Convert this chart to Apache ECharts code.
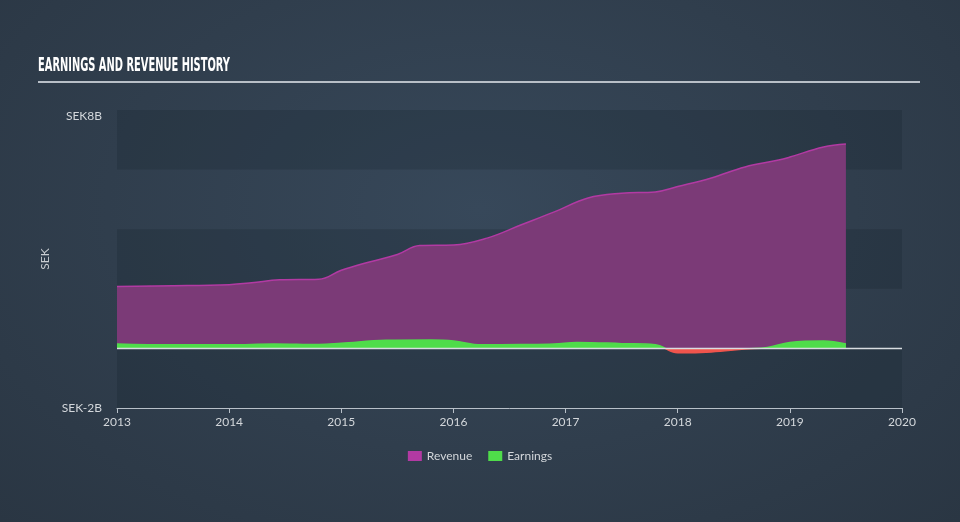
<!DOCTYPE html>
<html><head><meta charset="utf-8">
<script src="https://cdn.jsdelivr.net/npm/echarts@6/dist/echarts.min.js"></script>
<style>
html,body{margin:0;padding:0;}
body{width:960px;height:522px;background:radial-gradient(ellipse at 50% 40%, #37485a 0%, #303e4d 55%, #2a3643 100%);}
#c{width:960px;height:522px;}
</style></head><body><div id="c"></div>
<script>
const revenueX = [2013.0,2013.5,2014.0,2014.2,2014.45,2014.8,2015.0,2015.25,2015.5,2015.7,2016.0,2016.3,2016.6,2016.9,2017.2,2017.5,2017.8,2018.0,2018.3,2018.6,2018.9,2019.0,2019.3,2019.5];
const revenueY = [2.08,2.1,2.14,2.2,2.3,2.32,2.62,2.9,3.15,3.45,3.47,3.7,4.14,4.58,5.05,5.21,5.25,5.43,5.72,6.09,6.32,6.42,6.76,6.86];
const earningsX = [2013.0,2013.5,2014.0,2014.4,2014.8,2015.0,2015.4,2015.8,2016.0,2016.25,2016.6,2016.9,2017.1,2017.5,2017.8,2018.0,2018.3,2018.6,2018.8,2019.0,2019.3,2019.5];
const earningsY = [0.15,0.12,0.12,0.15,0.13,0.17,0.27,0.28,0.25,0.12,0.13,0.15,0.2,0.16,0.12,-0.15,-0.12,-0.02,0.03,0.2,0.25,0.15];
const zeroLineX = [2013, 2020];
const yTicks = {8:'{top|SEK8B}', '-2':'SEK-2B'};
const titleText = 'EARNINGS AND REVENUE HISTORY';

const titleFont = 'bold 20px "DejaVu Sans Condensed", "DejaVu Sans", sans-serif';
const cv = document.createElement('canvas').getContext('2d');
cv.font = titleFont;
const titleScale = 192 / cv.measureText(titleText).width;

const chart = echarts.init(document.getElementById('c'));
const GREEN = '#4fdc4a', RED = '#f0544c';
chart.setOption({
  backgroundColor: 'transparent',
  animation: false,
  graphic: [
    {type: 'rect', shape: {x: 38, y: 81, width: 882, height: 2}, style: {fill: '#b8bfc7'}},
    {type: 'text', x: 38, y: 56, scaleX: titleScale,
      style: {text: titleText, x: 0, y: 0, font: titleFont, fill: '#ffffff', verticalAlign: 'top'}}
  ],
  legend: {
    bottom: 55, left: 'center', itemWidth: 14, itemHeight: 10, itemGap: 16, icon: 'rect',
    textStyle: {color: '#d3d7db', fontFamily: 'Lato', fontSize: 12},
    data: [{name: 'Revenue', itemStyle: {color: '#b23aa3'}}, {name: 'Earnings', itemStyle: {color: GREEN}}]
  },
  grid: {left: 117, right: 58, top: 110, bottom: 114},
  xAxis: {
    type: 'value', min: 2013, max: 2020, interval: 1,
    axisLine: {onZero: false, lineStyle: {color: '#b8c0c8'}},
    axisTick: {length: 5, lineStyle: {color: '#b8c0c8'}},
    axisLabel: {color: '#d3d7db', fontFamily: 'Lato', fontSize: 12, formatter: v => String(v), margin: 8},
    splitLine: {show: false}
  },
  yAxis: {
    type: 'value', min: -2, max: 8, interval: 2,
    name: 'SEK', nameLocation: 'middle', nameGap: 40, nameRotate: 90,
    nameTextStyle: {color: '#c8ccd0', fontFamily: 'Lato', fontSize: 12},
    axisLine: {show: false}, axisTick: {show: false},
    axisLabel: {color: '#d3d7db', fontFamily: 'Lato', fontSize: 12, margin: 15, formatter: v => yTicks[v] || '',
      rich: {top: {color: '#d3d7db', fontFamily: 'Lato', fontSize: 12, padding: [12, 0, 0, 0]}}},
    splitLine: {show: false},
    splitArea: {show: true, areaStyle: {color: ['rgba(20,30,42,0.22)', 'rgba(255,255,255,0.0)']}}
  },
  series: [
    {
      name: 'Revenue', type: 'line', smooth: 0.4, symbol: 'none',
      data: revenueX.map((x, i) => [x, revenueY[i]]),
      lineStyle: {color: '#b23aa3', width: 1.5},
      itemStyle: {color: '#b23aa3'},
      areaStyle: {color: '#7b3a77', opacity: 1},
      z: 2
    },
    {
      name: 'Earnings', type: 'line', smooth: 0.4, symbol: 'none',
      data: earningsX.map((x, i) => [x, earningsY[i]]),
      lineStyle: {width: 1.5, color: GREEN},
      itemStyle: {color: GREEN},
      areaStyle: {opacity: 1, color: GREEN},
      z: 3
    },
    {
      name: 'zero', type: 'line', symbol: 'none', silent: true,
      data: zeroLineX.map(x => [x, 0]),
      lineStyle: {color: '#d9dde1', width: 1.5},
      z: 4
    }
  ]
});
// sign-based colouring: split colour exactly at the zero line of the y scale
const y0 = chart.convertToPixel({yAxisIndex: 0}, 0);
const H = chart.getHeight();
const t = y0 / H;
const grad = () => new echarts.graphic.LinearGradient(0, 0, 0, H, [
  {offset: 0, color: GREEN}, {offset: t, color: GREEN}, {offset: t, color: RED}, {offset: 1, color: RED}
], true);
chart.setOption({series: [{}, {lineStyle: {color: grad()}, areaStyle: {color: grad()}}, {}]});
</script></body></html>
